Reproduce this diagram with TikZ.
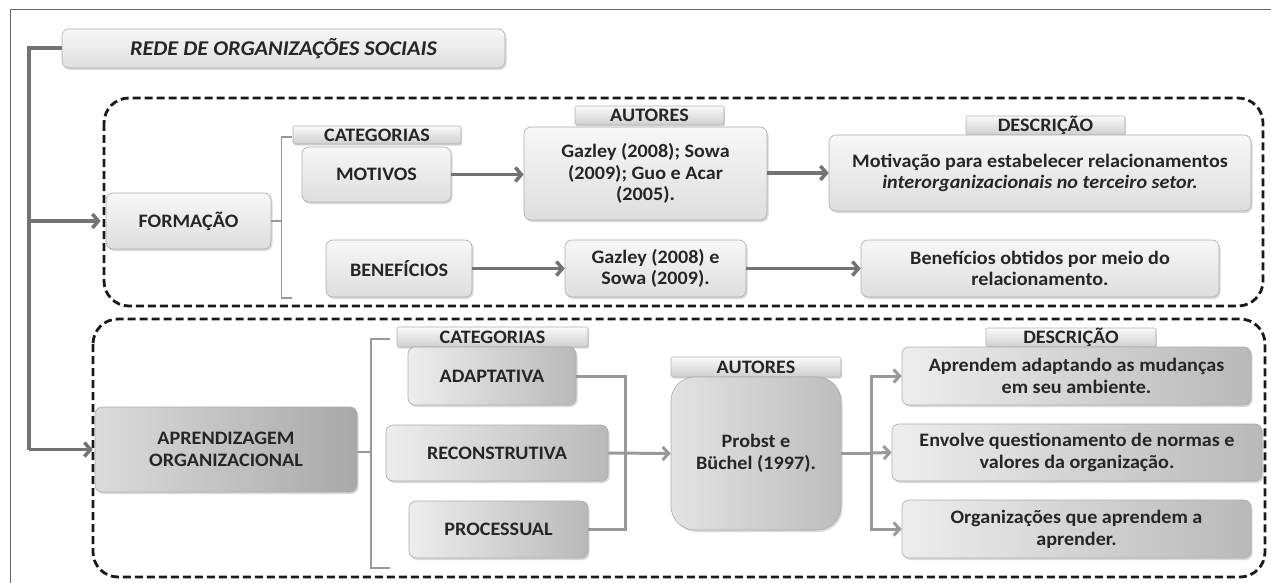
\documentclass[tikz,border=0pt]{standalone}
\usepackage{fontspec}
\setmainfont{Carlito}[FakeStretch=1.06]
\usetikzlibrary{arrows.meta,shadows}
\begin{document}
\begin{tikzpicture}[x=1pt,y=-1pt,
  box/.style={draw=gray!65, line width=0.6pt, rounded corners=7pt, inner sep=0pt, align=center,
    font=\bfseries\fontsize{19}{21.7}\selectfont, text=black!85,
    drop shadow={shadow xshift=1.5pt,shadow yshift=-2pt,opacity=0.3}},
  lightbox/.style={box, top color=gray!6, bottom color=gray!26},
  darkbox/.style={box, left color=gray!14, right color=gray!55},
  tabbox/.style={draw=gray!60, line width=0.6pt, inner sep=0pt, rounded corners=1.5pt,
    top color=gray!4, bottom color=gray!38, text=black!85,
    font=\bfseries\fontsize{19}{20}\selectfont,
    drop shadow={shadow xshift=1pt,shadow yshift=-1.5pt,opacity=0.3}},
  trunk/.style={draw=black!55, line width=4pt},
  conn/.style={draw=black!55, line width=3.5pt, -{Straight Barb[length=6pt,width=14pt]}},
  gline/.style={draw=black!40, line width=3pt},
  garrow/.style={gline, -{Straight Barb[length=6pt,width=13pt]}},
  brk/.style={draw=black!40, line width=1.3pt},
  dashbox/.style={draw=black!90, line width=2.8pt, dash pattern=on 8pt off 4pt, rounded corners=25pt}
]
\useasboundingbox (0,0) rectangle (1271,583);
\draw[black!60, line width=1pt] (10,583) -- (10,10) -- (1271,10);

% dashed groups
\draw[dashbox] (104,98) rectangle (1263,306);
\draw[dashbox] (93,319) rectangle (1265,577);

% title
\node[lightbox, minimum width=443pt, minimum height=39pt, font=\bfseries\itshape\fontsize{21}{24}\selectfont] (title) at (283.5,48.5) {REDE DE ORGANIZAÇÕES SOCIAIS};

% top section
\node[lightbox, minimum width=165pt, minimum height=56pt] (formacao) at (188.5,221) {FORMAÇÃO};
\node[tabbox, minimum width=168pt, minimum height=18pt] (cat1) at (377,135) {CATEGORIAS};
\node[lightbox, minimum width=149pt, minimum height=55pt] (motivos) at (376.5,174.5) {MOTIVOS};
\node[lightbox, minimum width=146pt, minimum height=57pt] (benef) at (399,268.5) {BENEFÍCIOS};
\node[tabbox, minimum width=149pt, minimum height=19pt] (aut1) at (649.5,115.5) {AUTORES};
\node[lightbox, minimum width=243pt, minimum height=93pt] (a1) at (645.5,173.5) {Gazley (2008); Sowa\\(2009); Guo e Acar\\(2005).};
\node[tabbox, minimum width=159pt, minimum height=19pt] (desc1) at (1045.5,125.5) {DESCRIÇÃO};
\node[lightbox, minimum width=422pt, minimum height=76pt] (d1) at (1040,173) {Motivação para estabelecer relacionamentos\\\textit{interorganizacionais no terceiro setor.}};
\node[lightbox, minimum width=181pt, minimum height=57pt] (a2) at (655.5,268.5) {Gazley (2008) e\\Sowa (2009).};
\node[lightbox, minimum width=358pt, minimum height=57pt] (d2) at (1040,268.5) {Benefícios obtidos por meio do\\relacionamento.};

% bottom section
\node[darkbox, left color=gray!28, right color=gray!68, minimum width=262pt, minimum height=85pt] (aprend) at (226,449.5) {APRENDIZAGEM\\ORGANIZACIONAL};
\node[tabbox, minimum width=191pt, minimum height=20pt] (cat2) at (492.5,337) {CATEGORIAS};
\node[darkbox, minimum width=168pt, minimum height=58pt] (adapt) at (492,376) {ADAPTATIVA};
\node[darkbox, minimum width=222pt, minimum height=56pt] (recon) at (497,453) {RECONSTRUTIVA};
\node[darkbox, minimum width=179pt, minimum height=57pt] (proc) at (498.5,529.5) {PROCESSUAL};
\node[tabbox, minimum width=170pt, minimum height=20pt] (aut2) at (756,367) {AUTORES};
\node[darkbox, rounded corners=24pt, left color=gray!22, right color=gray!52, minimum width=170pt, minimum height=153pt] (probst) at (756,453.5) {Probst e\\Büchel (1997).};
\node[tabbox, minimum width=170pt, minimum height=19pt] (desc2) at (1071,337.5) {DESCRIÇÃO};
\node[darkbox, minimum width=349pt, minimum height=58pt] (e1) at (1076.5,376) {Aprendem adaptando as mudanças\\em seu ambiente.};
\node[darkbox, minimum width=370pt, minimum height=57pt] (e2) at (1077,452.5) {Envolve questionamento de normas e\\valores da organização.};
\node[darkbox, minimum width=349pt, minimum height=58pt] (e3) at (1076.5,529) {Organizações que aprendem a\\aprender.};

% trunk
\coordinate (tk) at (28.6,48.5);
\draw[trunk] (title.west) -- (tk) -- (tk |- aprend.west);
\draw[conn, shorten >=5pt] (tk |- formacao.west) -- (formacao.west);
\draw[conn, shorten >=2pt] (tk |- aprend.west) -- (aprend.west);

% top arrows
\draw[conn] (motivos.east) -- (motivos.east -| a1.west);
\draw[conn] (a1.east |- d1.west) -- (d1.west);
\draw[conn] (benef.east) -- (a2.west);
\draw[conn] (a2.east) -- (d2.west);

% brackets
\coordinate (b1) at (281.5,221);
\draw[brk] (formacao.east) -- (b1);
\draw[brk] (292,137) -- (281.5,137) -- (281.5,298) -- (292,298);
\coordinate (b2) at (371,452);
\draw[brk] (aprend.east |- b2) -- (b2);
\draw[brk] (390,339) -- (371,339) -- (371,568) -- (390,568);

% bottom connectors
\coordinate (jA) at (625,453);
\draw[gline] (adapt.east) -| (jA);
\draw[gline] (proc.east) -| (jA);
\draw[garrow] (recon.east) -- (probst.west);
\coordinate (jD) at (871,453);
\draw[gline] (probst.east |- jD) -- (jD);
\draw[garrow] (jD) |- (e1.west);
\draw[garrow] (jD) -- (e2.west);
\draw[garrow] (jD) |- (e3.west);
\end{tikzpicture}
\end{document}
